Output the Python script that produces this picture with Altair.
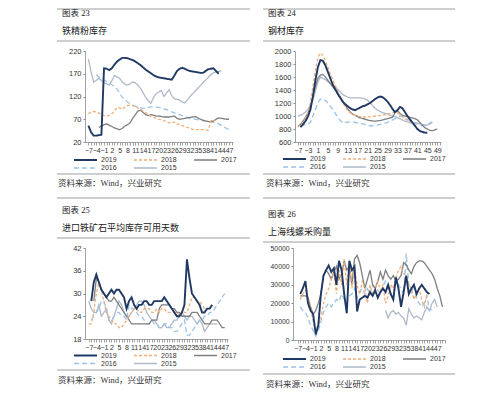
import altair as alt
import pandas as pd

# ---------------- shared styling ----------------
YEARS = ["2019", "2018", "2017", "2016", "2015"]
LINE_COLORS = ["#1F3864", "#F0AE7A", "#7F7F7F", "#9DC3E6", "#ADB9CA"]
LINE_DASHES = [[1, 0], [3, 2], [1, 0], [5, 3], [1, 0]]
LINE_WIDTHS = [1.9, 1.3, 1.3, 1.3, 1.3]
RULE_COLOR = "#9E9E9E"
AXIS_COLOR = "#8C8C8C"
FONT = "Liberation Sans"
CJK = "Liberation Serif, Noto Sans CJK SC"
SOURCE_TEXT = "资料来源：Wind，兴业研究"

# ---------------- 图表 23 铁精粉库存 ----------------
P23_FIG = "图表 23"
P23_TITLE = "铁精粉库存"
P23_START = {"2019": -7, "2018": -7, "2017": -3, "2016": -4, "2015": -7}
P23_2019 = [56, 42, 34, 34, 35, 36, 182, 181, 178, 182, 190, 197, 201, 205, 205, 204, 202, 200, 197, 193,
            189, 184, 179, 175, 171, 167, 164, 162, 161, 160, 159, 158, 157, 166, 176, 181, 183, 181, 178, 176,
            175, 174, 173, 172, 172, 176, 180, 181, 182, 176, 170]
P23_2018 = [82, 85, 87, 86, 84, 80, 78, 77, 79, 82, 88, 96, 95, 92, 97, 100, 101, 100, 98, 95,
            92, 88, 85, 80, 76, 74, 72, 70, 69, 67, 64, 62, 62, 64, 60, 58, 56, 54, 52, 50,
            48, 47, 47, 47, 47, 46, 46, 66, 68, 67]
P23_2017 = [52, 55, 58, 60, 57, 54, 51, 49, 47, 50, 55, 58, 62, 72, 80, 88, 90, 85, 80, 78,
            80, 79, 77, 77, 76, 75, 75, 75, 76, 77, 72, 70, 71, 72, 73, 74, 75, 76, 73, 70,
            68, 66, 65, 65, 66, 70, 73, 72, 71, 70, 70]
P23_2016 = [168, 163, 160, 156, 153, 150, 146, 142, 136, 128, 118, 113, 108, 104, 101, 99, 97, 95, 94, 95,
            96, 97, 97, 97, 96, 95, 93, 91, 89, 86, 84, 82, 80, 78, 76, 74, 72, 71, 70, 69,
            68, 67, 66, 65, 64, 63, 62, 60, 57, 53, 50, 47]
P23_2015 = [202, 175, 152, 155, 160, 155, 150, 148, 145, 155, 166, 163, 160, 152, 147, 145, 148, 152, 150, 145,
            138, 128, 118, 110, 105, 118, 126, 130, 133, 120, 128, 135, 122, 115, 114, 112, 108, 106, 112, 120,
            126, 132, 138, 144, 150, 156, 162, 168, 172, 174, 175, 176]

# ---------------- 图表 24 钢材库存 ----------------
P24_FIG = "图表 24"
P24_TITLE = "钢材库存"
P24_START = {"2019": -6, "2018": -7, "2017": -7, "2016": -6, "2015": -7}
P24_2019 = [830, 870, 920, 990, 1100, 1300, 1550, 1750, 1860, 1850, 1780, 1680, 1580, 1480, 1410, 1340, 1280,
            1220, 1180, 1150, 1120, 1100, 1090, 1110, 1130, 1150, 1160, 1180, 1200, 1230, 1260, 1285, 1300,
            1290, 1260, 1220, 1170, 1110, 1060, 1090, 1140, 1120, 1060, 1000, 950, 900, 850, 800, 770, 755,
            745, 740]
P24_2018 = [830, 860, 900, 960, 1050, 1200, 1450, 1700, 1900, 1970, 1930, 1850, 1750, 1650, 1560, 1470, 1380,
            1290, 1210, 1140, 1080, 1050, 1030, 1010, 1000, 990, 985, 985, 990, 990, 995, 1000, 1000, 1005,
            1010, 1020, 1030, 1040, 1050, 1060, 1050, 1020, 990, 960, 930, 900, 880, 860, 850]
P24_2017 = [840, 870, 920, 980, 1050, 1150, 1300, 1450, 1580, 1630, 1640, 1600, 1550, 1500, 1450, 1400, 1350,
            1290, 1230, 1170, 1110, 1060, 1030, 1010, 990, 970, 960, 950, 940, 930, 925, 920, 925, 930, 940,
            950, 960, 970, 980, 1050, 1080, 1040, 1010, 1000, 990, 980, 970, 960, 940, 900, 860, 820, 800,
            780, 775, 785, 800]
P24_2016 = [850, 860, 870, 880, 900, 1000, 1100, 1200, 1260, 1260, 1240, 1200, 1150, 1100, 1040, 980, 930,
            900, 900, 905, 910, 905, 900, 895, 890, 880, 870, 855, 850, 850, 855, 860, 870, 880, 890, 900,
            920, 940, 960, 980, 1000, 990, 970, 950, 930, 910, 890, 870, 855, 850, 860, 870, 890, 910]
P24_2015 = [1000, 1010, 1030, 1060, 1100, 1170, 1250, 1380, 1520, 1600, 1580, 1560, 1530, 1500, 1470, 1440,
            1410, 1370, 1330, 1310, 1290, 1280, 1280, 1280, 1280, 1280, 1275, 1260, 1240, 1200, 1160, 1120,
            1090, 1070, 1050, 1040, 1030, 1010, 1000, 990, 975, 960, 940, 920, 910, 900, 900, 895, 890, 880,
            870, 860, 860, 880, 900]

# ---------------- 图表 25 进口铁矿石平均库存可用天数 ----------------
P25_FIG = "图表 25"
P25_TITLE = "进口铁矿石平均库存可用天数"
P25_START = {"2019": -6, "2018": -7, "2017": -5, "2016": -6, "2015": -7}
P25_2019 = [28, 33, 35, 33, 31, 30, 29, 30, 31, 30, 31, 31, 30, 29, 26, 28, 29, 27, 26, 27,
            27, 28, 28, 27, 27, 28, 28, 28, 28, 29, 28, 27, 26, 25, 24, 24, 25, 27, 39, 34,
            30, 29, 28, 27, 25, 25, 26, 26, 27]
P25_2018 = [22, 22, 25, 30, 33, 31, 28, 25, 24, 23, 22, 22, 21, 21, 22, 23, 24, 25, 26, 26,
            25, 25, 26, 26, 26, 25, 25, 26, 25, 26, 26, 25, 25, 25, 25, 25, 24, 25, 25, 25,
            27, 29, 29, 28, 28, 27, 26, 26, 26, 27]
P25_2017 = [28, 34, 33, 31, 30, 29, 28, 28, 29, 28, 27, 26, 25, 24, 23, 22, 22, 22, 22, 22,
            22, 22, 22, 23, 23, 23, 26, 27, 27, 27, 27, 26, 26, 25, 25, 24, 24, 24, 24, 25,
            25, 25, 24, 23, 22, 22, 22, 23, 23, 23, 22, 21, 21]
P25_2016 = [23, 24, 25, 26, 28, 28, 26, 23, 23, 24, 25, 25, 24, 24, 23, 27, 26, 26, 25, 24,
            24, 23, 22, 22, 23, 22, 22, 21, 21, 22, 22, 21, 21, 20, 20, 21, 22, 23, 19, 19,
            20, 21, 22, 23, 23, 24, 24, 25, 25, 26, 27, 28, 29, 30]
P25_2015 = [28, 26, 25, 25, 27, 24, 25, 26, 23, 22, 24, 26, 28, 27, 25, 24, 24, 25, 26, 27,
            28, 28, 27, 25, 24, 23, 23, 22, 21, 21, 22, 21, 21, 22, 23, 23, 24, 25, 24, 23,
            24, 24, 23, 22, 23, 22, 20, 21, 22, 22, 22, 22]

# ---------------- 图表 26 上海线螺采购量 ----------------
P26_FIG = "图表 26"
P26_TITLE = "上海线螺采购量"
P26_START = {"2019": -6, "2018": -6, "2017": -6, "2016": -6, "2015": 27}
P26_2019 = [25000, 28000, 32000, 20000, 16000, 14000, 3000, 8000, 25000, 35000, 38000, 40500, 37000, 39000,
            30000, 43000, 38000, 25000, 14500, 43000, 38000, 40000, 15500, 22000, 23000, 24000, 23000, 26000,
            24000, 27000, 23000, 26000, 28000, 26000, 30000, 25000, 22000, 34000, 28000, 18000, 26000, 35000,
            25000, 28000, 30000, 25000, 28000, 30000, 28000, 26000, 25000]
P26_2018 = [22000, 25000, 27000, 23000, 18000, 10000, 5000, 8000, 12000, 20000, 25000, 28000, 33000, 37000,
            25000, 38000, 30000, 44000, 30000, 42000, 28000, 38000, 30000, 25000, 32000, 28000, 20000, 30000,
            25000, 28000, 32000, 27000, 30000, 20000, 24000, 30000, 28000, 33000, 38000, 40000, 36000, 35000,
            30000, 28000, 22000, 26000, 28000, 22000, 18000, 25000]
P26_2017 = [24000, 24000, 24000, 23000, 18000, 14000, 16000, 20000, 25000, 35000, 38000, 36000, 33000, 37000,
            40000, 33000, 36000, 43000, 38000, 40000, 30000, 44000, 46000, 42000, 35000, 28000, 33000, 38000,
            30000, 28000, 32000, 37000, 33000, 38000, 35000, 33000, 35000, 32000, 33000, 35000, 42000, 41000,
            38000, 36000, 40000, 42000, 43000, 43000, 42000, 40000, 38000, 36000, 33000, 28000, 24000, 18000]
P26_2016 = [18000, 16000, 15000, 12000, 8000, 5000, 2000, 5000, 10000, 15000, 18000, 20000, 18000, 20000,
            22000, 21000, 25000, 22000, 20000, 24000, 25000, 28000, 23000, 26000, 28000, 25000, 28000, 25000,
            30000, 28000, 27000, 25000, 29000, 32000, 28000, 25000, 22000, 35000, 30000, 28000, 25000, 47000,
            30000, 25000, 30000, 22000, 20000, 18000, 20000, 24000, 16000, 17000, 18000]
P26_2015 = [16000, 12000, 15000, 16000, 14000, 15000, 13000, 12000, 8000, 17000, 14000, 12000, 13000, 12000,
            11000, 15000, 18000, 16000, 20000, 22000, 18000]


def frame(starts, series):
    rows = []
    for year in reversed(YEARS):  # 2015 drawn first, 2019 on top
        start = starts[year]
        for i, v in enumerate(series[year]):
            rows.append({"week": start + i, "value": v, "year": year})
    return pd.DataFrame(rows)


ONE = pd.DataFrame({"k": [0]})


def hrule(x1, x2, y, visible=True):
    return alt.Chart(ONE).mark_rule(
        color=RULE_COLOR, strokeWidth=1, strokeOpacity=1 if visible else 0
    ).encode(x=alt.value(x1), x2=alt.value(x2), y=alt.value(y))


def label(text, x, y, size, color="#222222"):
    return alt.Chart(pd.DataFrame({"t": [text]})).mark_text(
        align="left", baseline="middle", font=CJK, fontSize=size, color=color
    ).encode(x=alt.value(x), y=alt.value(y), text="t:N")


def panel(df, xdom, xticks_max, step, last_label, ydom, yticks, w, h, lx, ly, ysize, deco):
    legend = alt.Legend(
        orient="none", direction="horizontal", legendX=lx, legendY=ly, columns=3,
        symbolType="stroke", symbolSize=529, clipHeight=8, columnPadding=16, rowPadding=0,
        labelOffset=3, labelFontSize=7, labelFont=FONT, labelColor="#333333", padding=0,
        labelLimit=40,
    )
    lines = alt.Chart(df).mark_line().encode(
        x=alt.X(
            "week:Q", title=None,
            scale=alt.Scale(domain=xdom, nice=False, zero=False),
            axis=alt.Axis(
                values=list(range(-7, xticks_max + 1)),
                labelExpr=(f"(datum.value + 7) % {step} == 0 && datum.value <= {last_label}"
                           " ? datum.label : ''"),
                labelOverlap=False, labelFlush=False, labelBound=False, labelAngle=0,
                labelFontSize=7, labelFont=FONT, labelColor="#333333", labelPadding=1,
                tickSize=3, tickColor=AXIS_COLOR, tickWidth=0.8,
                domainColor=AXIS_COLOR, domainWidth=0.8, grid=False,
            ),
        ),
        y=alt.Y(
            "value:Q", title=None,
            scale=alt.Scale(domain=ydom, nice=False, zero=False),
            axis=alt.Axis(
                values=yticks, format="d", labelFontSize=ysize, labelFont=FONT,
                labelColor="#333333", labelPadding=2, tickSize=2, tickColor=AXIS_COLOR,
                domainColor=AXIS_COLOR, domainWidth=0.8, grid=False,
            ),
        ),
        color=alt.Color("year:N", title=None,
                        scale=alt.Scale(domain=YEARS, range=LINE_COLORS), legend=legend),
        strokeDash=alt.StrokeDash("year:N", title=None,
                                  scale=alt.Scale(domain=YEARS, range=LINE_DASHES), legend=legend),
        strokeWidth=alt.StrokeWidth("year:N", title=None,
                                    scale=alt.Scale(type="ordinal", domain=YEARS, range=LINE_WIDTHS),
                                    legend=legend),
    )
    return alt.layer(lines, *deco).properties(width=w, height=h)


def series(a, b, c, d, e):
    return {"2019": a, "2018": b, "2017": c, "2016": d, "2015": e}


# panel 23 : plot origin (85, 51)
p23 = panel(
    frame(P23_START, series(P23_2019, P23_2018, P23_2017, P23_2016, P23_2015)),
    [-8.3, 48.5], 48, 3, 47, [20, 220], [20, 70, 120, 170, 220], 148, 91, -12, 105, 7.5,
    [hrule(-28, 165, -42), label(P23_FIG, -23, -38, 8.5), label(P23_TITLE, -23, -20, 9),
     hrule(-28, 165, -10), hrule(-28, 165, 123), label(SOURCE_TEXT, -27, 131.5, 8.5, "#333333"),
     hrule(-28, 165, 147)],
)

# panel 24 : plot origin (295, 51)
p24 = panel(
    frame(P24_START, series(P24_2019, P24_2018, P24_2017, P24_2016, P24_2015)),
    [-8.2, 50.5], 50, 4, 49, [600, 2000], [600, 800, 1000, 1200, 1400, 1600, 1800, 2000], 146, 91,
    -13, 104, 7.5,
    [hrule(-32, 160, -42), label(P24_FIG, -27, -38, 8.5), label(P24_TITLE, -27, -20, 9),
     hrule(-32, 160, -10), hrule(-32, 160, 123), label(SOURCE_TEXT, -29, 131.5, 8.5, "#333333"),
     hrule(-32, 160, 147)],
)

# panel 25 : plot origin (85, 248)
p25 = panel(
    frame(P25_START, series(P25_2019, P25_2018, P25_2017, P25_2016, P25_2015)),
    [-8.5, 48.3], 48, 3, 47, [18, 42], [18, 24, 30, 36, 42], 143, 91, -12, 103.5, 7.5,
    [hrule(-28, 165, -49, visible=False), label(P25_FIG, -23, -38, 8.5), label(P25_TITLE, -23, -20, 9),
     hrule(-28, 165, -10), hrule(-28, 165, 122), label(SOURCE_TEXT, -27, 132, 8.5, "#333333")],
)

# panel 26 : plot origin (293, 244)
p26 = panel(
    frame(P26_START, series(P26_2019, P26_2018, P26_2017, P26_2016, P26_2015)),
    [-8.8, 50], 50, 3, 47, [0, 50000], [0, 10000, 20000, 30000, 40000, 50000], 152, 92, -11, 107, 6.8,
    [hrule(-30, 162, -45, visible=False), label(P26_FIG, -25, -34, 8.5), label(P26_TITLE, -25, -16, 9),
     hrule(-30, 162, -6), hrule(-30, 162, 126), label(SOURCE_TEXT, -27, 136, 8.5, "#333333")],
)

RES = dict(color="independent", strokeDash="independent", strokeWidth="independent")
row1 = alt.hconcat(p23, p24, spacing=11).resolve_scale(**RES)
row2 = alt.hconcat(p25, p26, spacing=11).resolve_scale(**RES)

chart = (
    alt.vconcat(row1, row2, spacing=0)
    .resolve_scale(**RES)
    .properties(padding={"left": 48, "top": 0, "right": 5, "bottom": 0})
    .configure(background="white")
    .configure_view(strokeWidth=0)
)

chart.save("out.html", embed_options={"renderer": "svg", "actions": False})
